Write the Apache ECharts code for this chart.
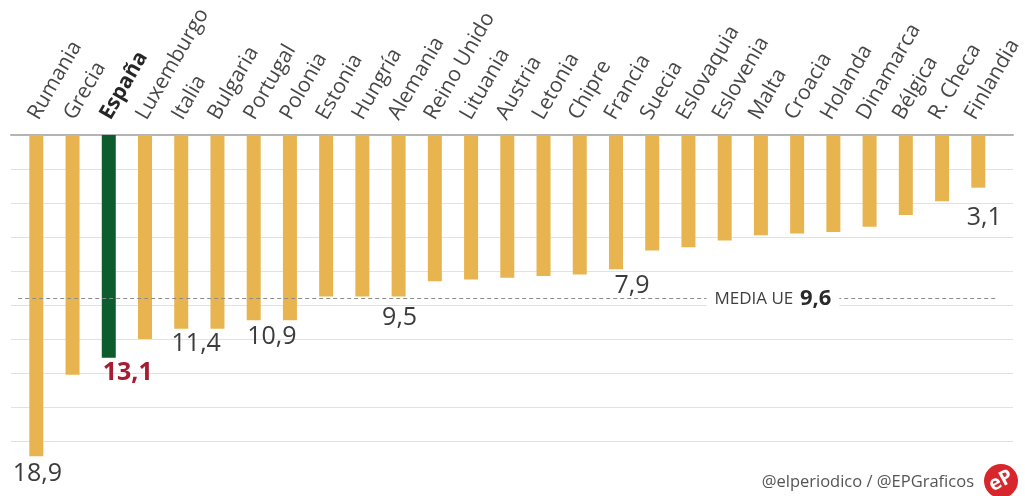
<!DOCTYPE html>
<html><head><meta charset="utf-8">
<script src="https://cdn.jsdelivr.net/npm/echarts@6/dist/echarts.min.js"></script>
<style>html,body{margin:0;padding:0;background:#fff}#c{width:1025px;height:496px}</style>
</head><body><div id="c"></div>
<script>
// ---- data ----
const categories = ['Rumania','Grecia','España','Luxemburgo','Italia','Bulgaria','Portugal','Polonia','Estonia','Hungría','Alemania','Reino Unido','Lituania','Austria','Letonia','Chipre','Francia','Suecia','Eslovaquia','Eslovenia','Malta','Croacia','Holanda','Dinamarca','Bélgica','R. Checa','Finlandia'];
const values = [18.9,14.1,13.1,12.0,11.4,11.4,10.9,10.9,9.5,9.5,9.5,8.6,8.5,8.4,8.3,8.2,7.9,6.8,6.6,6.2,5.9,5.8,5.7,5.4,4.7,3.9,3.1];
const highlight = 'España';
const labeledCats = ['Rumania','España','Italia','Polonia','Alemania','Francia','Finlandia'];
const euMean = 9.6;
const meanText = 'MEDIA UE';
const meanAnchorCat = 'Malta';
const sourceText = '@elperiodico / @EPGraficos';

// ---- styles ----
const FONT = '"Open Sans", "Noto Sans", sans-serif';
const labelOffsets = {
  'Rumania':[1,0], 'España':[19,-2], 'Italia':[15,-2], 'Polonia':[-18,-1],
  'Alemania':[1,4], 'Francia':[16,-1], 'Finlandia':[6,13]
};
const fmt = v => v.toFixed(1).replace('.', ',');

const barData = categories.map((c, i) => {
  const item = { value: values[i] };
  if (c === highlight) item.itemStyle = { color: '#0d5c2d' };
  if (labeledCats.includes(c)) {
    item.label = {
      show: true, position: 'bottom', distance: 5,
      offset: labelOffsets[c] || [0,0],
      formatter: fmt(values[i]),
      fontFamily: FONT, fontSize: 25,
      color: c === highlight ? '#a61c30' : '#3c3c3c',
      fontWeight: c === highlight ? 'bold' : 'normal'
    };
  }
  return item;
});

const chart = echarts.init(document.getElementById('c'));
chart.setOption({
  animation: false,
  backgroundColor: '#fff',
  grid: [
    { left: 18.2, right: 28.6, top: 135, height: 323 },
    { left: 11, right: 12, top: 135, height: 306 },
    { left: 15.2, right: 31.6, top: 135, height: 10 }
  ],
  xAxis: [
    { type: 'category', gridIndex: 0, data: categories, show: false },
    { type: 'value', gridIndex: 1, position: 'top', min: 0, max: 1,
      axisLine: { show: true, lineStyle: { color: '#b4b4b4', width: 2 } },
      axisTick: { show: false }, axisLabel: { show: false }, splitLine: { show: false } },
    { type: 'category', gridIndex: 2, data: categories, position: 'top',
      axisLine: { show: false }, axisTick: { show: false },
      axisLabel: {
        rotate: 60, margin: 17, interval: 0,
        fontFamily: FONT, fontSize: 21, color: '#474747',
        formatter: v => v === highlight ? '{b|' + v + '}' : v,
        rich: { b: { fontFamily: FONT, fontSize: 21, fontWeight: 'bold', color: '#262626' } }
      } }
  ],
  yAxis: [
    { type: 'value', gridIndex: 0, inverse: true, min: 0, max: 19, show: false },
    { type: 'value', gridIndex: 1, inverse: true, min: 0, max: 18, interval: 2,
      axisLine: { show: false }, axisTick: { show: false }, axisLabel: { show: false },
      splitLine: { show: true, lineStyle: { color: '#dfe3e7', width: 1 } } },
    { type: 'value', gridIndex: 2, show: false }
  ],
  series: [{
    type: 'bar', xAxisIndex: 0, yAxisIndex: 0,
    barWidth: 14,
    itemStyle: { color: '#e8b44f' },
    data: barData,
    markLine: {
      silent: true, symbol: 'none',
      label: { show: false },
      lineStyle: { color: '#8c8c8c', type: [4, 3], width: 1 },
      data: [{ yAxis: euMean }]
    },
    markPoint: {
      silent: true, symbol: 'rect', symbolSize: 0,
      data: [{ coord: [meanAnchorCat, euMean] }],
      label: {
        show: true, position: 'inside', offset: [12, 1],
        backgroundColor: '#fff', padding: [2, 8],
        formatter: '{a|' + meanText + '}  {b|' + fmt(euMean) + '}',
        rich: {
          a: { fontFamily: FONT, fontSize: 17, color: '#3f3f3f' },
          b: { fontFamily: FONT, fontSize: 22, fontWeight: 'bold', color: '#2a2a2a' }
        }
      }
    }
  }],
  graphic: [
    { type: 'text', x: 974, y: 482, style: { text: sourceText, fontFamily: FONT, fontSize: 16.5, fill: '#555', align: 'right', verticalAlign: 'middle' } },
    { type: 'circle', shape: { cx: 1001, cy: 481, r: 17 }, style: { fill: '#d7262c' } },
    { type: 'text', x: 1001, y: 481, rotation: 0.5, style: { text: 'eP', fontFamily: FONT, fontSize: 20, fontWeight: 'bold', fill: '#fff', align: 'center', verticalAlign: 'middle' } }
  ]
});
</script></body></html>
